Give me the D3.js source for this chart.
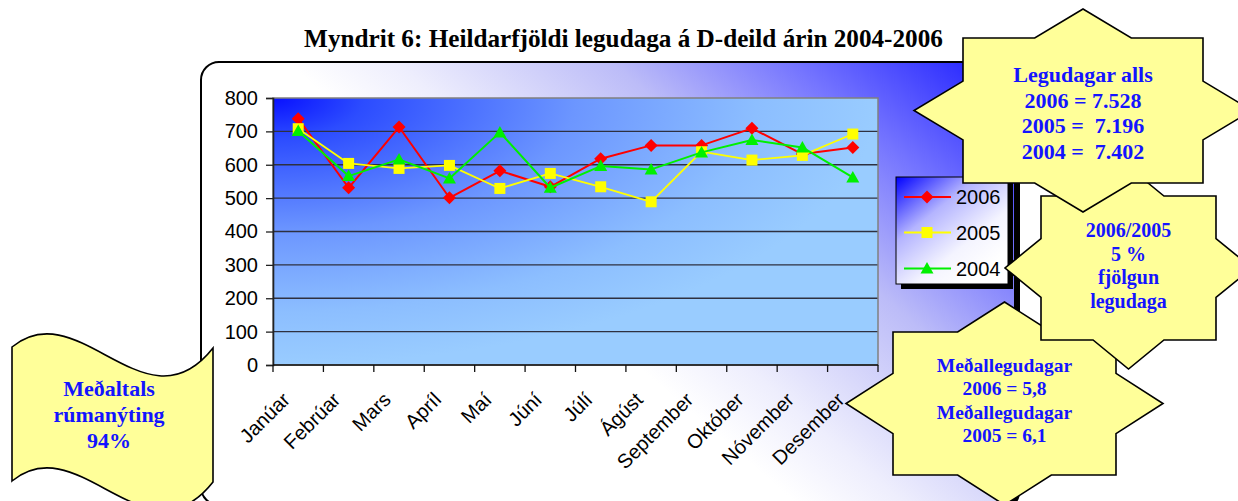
<!DOCTYPE html>
<html>
<head>
<meta charset="utf-8">
<script src="https://cdn.jsdelivr.net/npm/d3@7"></script>
<style>
  html, body { margin: 0; padding: 0; background: #ffffff; }
  svg { display: block; }
</style>
</head>
<body>
<svg id="chart" width="1238" height="501"></svg>
<script>
// ---------------- DATA ----------------
const months = ["Janúar","Febrúar","Mars","Apríl","Maí","Júní","Júlí","Ágúst","September","Október","Nóvember","Desember"];
const s2006 = [738, 531, 713, 501, 582, 534, 618, 658, 658, 709, 632, 652];
const s2005 = [708, 604, 589, 598, 529, 574, 534, 489, 639, 614, 628, 692];
const s2004 = [701, 566, 616, 559, 697, 531, 596, 586, 637, 674, 652, 562];
const yTicks = [0, 100, 200, 300, 400, 500, 600, 700, 800];
const seriesNames = ["2006", "2005", "2004"];
const titleText = "Myndrit 6: Heildarfjöldi legudaga á D-deild árin 2004-2006";
const star1Lines = ["Legudagar alls", "2006 = 7.528", "2005 =  7.196", "2004 =  7.402"];
const star2Lines = ["2006/2005", "5 %", "fjölgun", "legudaga"];
const star3Lines = ["Meðallegudagar", "2006 = 5,8", "Meðallegudagar", "2005 = 6,1"];
const bannerLines = ["Meðaltals", "rúmanýting", "94%"];

// ---------------- SETUP ----------------
const svg = d3.select("#chart");
const defs = svg.append("defs");

// frame background gradient
const fg = defs.append("linearGradient").attr("id", "frameGrad")
  .attr("gradientUnits", "userSpaceOnUse")
  .attr("x1", 1010).attr("y1", 62).attr("x2", 700).attr("y2", 420);
[[0, "#1a1aff"], [0.3, "#7474ff"], [0.55, "#bcbcf8"], [0.85, "#eeeefd"], [1, "#ffffff"]]
  .forEach(([o, c]) => fg.append("stop").attr("offset", o).attr("stop-color", c));

// plot area gradient
const pg = defs.append("radialGradient").attr("id", "plotGrad")
  .attr("cx", 0).attr("cy", 0).attr("r", 1).attr("fx", 0).attr("fy", 0);
[[0, "#0810ff"], [0.15, "#2c4cff"], [0.5, "#6c96ff"], [0.8, "#8cbeff"], [1, "#99ccff"]]
  .forEach(([o, c]) => pg.append("stop").attr("offset", o).attr("stop-color", c));

// legend gradient
const lg = defs.append("linearGradient").attr("id", "legGrad")
  .attr("x1", 0).attr("y1", 0).attr("x2", 0.75).attr("y2", 0.9);
[[0, "#0000ff"], [0.4, "#b4b4ff"], [0.75, "#f4f4ff"], [1, "#ffffff"]]
  .forEach(([o, c]) => lg.append("stop").attr("offset", o).attr("stop-color", c));

// ---------------- FRAME ----------------
const frame = { x: 201, y: 62, w: 814, h: 443, r: 18 };
svg.append("rect").attr("x", frame.x + 5).attr("y", frame.y + 5)
  .attr("width", frame.w).attr("height", frame.h).attr("rx", frame.r).attr("fill", "#000");
svg.append("rect").attr("x", frame.x).attr("y", frame.y)
  .attr("width", frame.w).attr("height", frame.h).attr("rx", frame.r)
  .attr("fill", "url(#frameGrad)").attr("stroke", "#000").attr("stroke-width", 2);

// title
svg.append("text").attr("x", 623.5).attr("y", 47)
  .attr("text-anchor", "middle")
  .attr("font-family", "'Liberation Serif', 'Times New Roman', serif")
  .attr("font-weight", "bold").attr("font-size", 25.2)
  .text(titleText);

// ---------------- PLOT ----------------
const plot = { left: 273, right: 878, top: 98, bottom: 365 };
const x = d3.scaleBand().domain(months).range([plot.left, plot.right]);
const y = d3.scaleLinear().domain([0, 800]).range([plot.bottom, plot.top]);

svg.append("rect").attr("x", plot.left).attr("y", plot.top)
  .attr("width", plot.right - plot.left).attr("height", plot.bottom - plot.top)
  .attr("fill", "url(#plotGrad)");

// gridlines
svg.append("g").selectAll("line").data(yTicks.filter(d => d > 0 && d < 800)).join("line")
  .attr("x1", plot.left).attr("x2", plot.right)
  .attr("y1", d => y(d)).attr("y2", d => y(d))
  .attr("stroke", "#2e3040").attr("stroke-width", 1.3);

// plot border (gray)
svg.append("rect").attr("x", plot.left).attr("y", plot.top)
  .attr("width", plot.right - plot.left).attr("height", plot.bottom - plot.top)
  .attr("fill", "none").attr("stroke", "#808080").attr("stroke-width", 1.5);

// y axis
const yAxis = d3.axisLeft(y).tickValues(yTicks).tickSize(7).tickPadding(8);
const gy = svg.append("g").attr("transform", `translate(${plot.left},0)`).call(yAxis);
gy.select(".domain").attr("stroke", "#222").attr("stroke-width", 1.6);
gy.selectAll(".tick line").attr("stroke", "#222").attr("stroke-width", 1.3);
gy.selectAll("text").attr("font-family", "'Liberation Sans', Arial, sans-serif")
  .attr("font-size", 20).attr("fill", "#000");

// x axis (ticks at category boundaries)
const xAxisG = svg.append("g").attr("transform", `translate(0,${plot.bottom})`);
xAxisG.append("line").attr("x1", plot.left).attr("x2", plot.right)
  .attr("stroke", "#111").attr("stroke-width", 1.6);
const boundaries = months.map(m => x(m)).concat([plot.right]);
xAxisG.selectAll("line.tk").data(boundaries).join("line").attr("class", "tk")
  .attr("x1", d => d).attr("x2", d => d).attr("y1", 0).attr("y2", 7)
  .attr("stroke", "#111").attr("stroke-width", 1.3);
xAxisG.selectAll("text").data(months).join("text")
  .attr("transform", d => `translate(${x(d) + x.bandwidth() / 2 - 12},${31}) rotate(-45)`)
  .attr("text-anchor", "end").attr("dy", "0.35em")
  .attr("font-family", "'Liberation Sans', Arial, sans-serif")
  .attr("font-size", 20).attr("fill", "#000")
  .text(d => d);

// ---------------- SERIES ----------------
const cx = m => x(m) + x.bandwidth() / 2;
const series = [
  { name: seriesNames[0], values: s2006, color: "#ff0000", width: 2, marker: "diamond" },
  { name: seriesNames[1], values: s2005, color: "#ffff00", width: 1.8, marker: "square" },
  { name: seriesNames[2], values: s2004, color: "#00f000", width: 2, marker: "triangle" }
];
const markerPath = {
  diamond: "M0,-6.5L6.5,0L0,6.5L-6.5,0Z",
  square: "M-5.5,-5.5H5.5V5.5H-5.5Z",
  triangle: "M0,-6.5L6.5,5L-6.5,5Z"
};
const line = d3.line().x((d, i) => cx(months[i])).y(d => y(d));
series.forEach(s => {
  const g = svg.append("g");
  g.append("path").attr("d", line(s.values)).attr("fill", "none")
    .attr("stroke", s.color).attr("stroke-width", s.width).attr("stroke-linejoin", "round");
  g.selectAll("path.mk").data(s.values).join("path").attr("class", "mk")
    .attr("d", markerPath[s.marker])
    .attr("transform", (d, i) => `translate(${cx(months[i])},${y(d)})`)
    .attr("fill", s.color);
});

// ---------------- LEGEND ----------------
const leg = { x: 896, y: 177, w: 112, h: 107 };
svg.append("rect").attr("x", leg.x + 5).attr("y", leg.y + 5).attr("width", leg.w).attr("height", leg.h).attr("fill", "#000");
svg.append("rect").attr("x", leg.x).attr("y", leg.y).attr("width", leg.w).attr("height", leg.h)
  .attr("fill", "url(#legGrad)").attr("stroke", "#000").attr("stroke-width", 1);
const legRows = [197, 232.5, 268.5];
series.forEach((s, i) => {
  const ly = legRows[i];
  svg.append("line").attr("x1", 904).attr("x2", 951).attr("y1", ly).attr("y2", ly)
    .attr("stroke", s.color).attr("stroke-width", s.width);
  svg.append("path").attr("d", markerPath[s.marker]).attr("transform", `translate(927,${ly})`).attr("fill", s.color);
  svg.append("text").attr("x", 956).attr("y", ly + 7)
    .attr("font-family", "'Liberation Sans', Arial, sans-serif").attr("font-size", 20)
    .attr("fill", "#000").text(s.name);
});

// ---------------- CALLOUTS ----------------
function starPts(cx, cy, hw, hh, dx, dy) {
  const ix = dx * (1 - hh / dy), iy = dy * (1 - hw / dx);
  return [[cx, cy - dy], [cx + ix, cy - hh], [cx + hw, cy - hh], [cx + hw, cy - iy], [cx + dx, cy],
    [cx + hw, cy + iy], [cx + hw, cy + hh], [cx + ix, cy + hh], [cx, cy + dy], [cx - ix, cy + hh],
    [cx - hw, cy + hh], [cx - hw, cy + iy], [cx - dx, cy], [cx - hw, cy - iy], [cx - hw, cy - hh], [cx - ix, cy - hh]];
}
function drawStar(p, lines, firstBase, step, fs) {
  svg.append("polygon").attr("points", starPts(p.cx, p.cy, p.hw, p.hh, p.dx, p.dy).map(q => q.join(",")).join(" "))
    .attr("fill", "#ffff99").attr("stroke", "#000").attr("stroke-width", 1.6).attr("stroke-linejoin", "miter");
  const t = svg.append("text").attr("text-anchor", "middle")
    .attr("font-family", "'Liberation Serif', 'Times New Roman', serif")
    .attr("font-weight", "bold").attr("font-size", fs).attr("fill", "#1414ff")
    .attr("xml:space", "preserve").style("white-space", "pre");
  lines.forEach((l, i) => t.append("tspan").attr("x", p.cx).attr("y", firstBase + i * step).text(l));
}
drawStar({ cx: 1004.5, cy: 403.5, hw: 111.5, hh: 71.5, dx: 158.5, dy: 101.5 }, star3Lines, 372, 23.3, 19.5);
drawStar({ cx: 1128.5, cy: 268, hw: 87.5, hh: 72, dx: 123.5, dy: 101 }, star2Lines, 237, 23.5, 20);
drawStar({ cx: 1083, cy: 110.5, hw: 120, hh: 72.5, dx: 169, dy: 101.5 }, star1Lines, 82, 25.7, 22);

// banner (wave)
const bx0 = 12, bx1 = 213, by0 = 347, bh = 134;
const wave = d3.path();
wave.moveTo(bx0, by0);
wave.bezierCurveTo(bx0 + 67, by0 - 55, bx0 + 134, by0 + 86, bx1, by0 + 1);
wave.lineTo(bx1, by0 + 1 + bh);
wave.bezierCurveTo(bx0 + 134, by0 + 86 + bh, bx0 + 67, by0 - 55 + bh, bx0, by0 + bh);
wave.closePath();
svg.append("path").attr("d", wave.toString()).attr("fill", "#ffff99")
  .attr("stroke", "#000").attr("stroke-width", 1.6);
const bt = svg.append("text").attr("text-anchor", "middle")
  .attr("font-family", "'Liberation Serif', 'Times New Roman', serif")
  .attr("font-weight", "bold").attr("font-size", 22).attr("fill", "#1414ff");
bannerLines.forEach((l, i) => bt.append("tspan").attr("x", 109).attr("y", 396 + i * 25.8).text(l));
</script>
</body>
</html>
